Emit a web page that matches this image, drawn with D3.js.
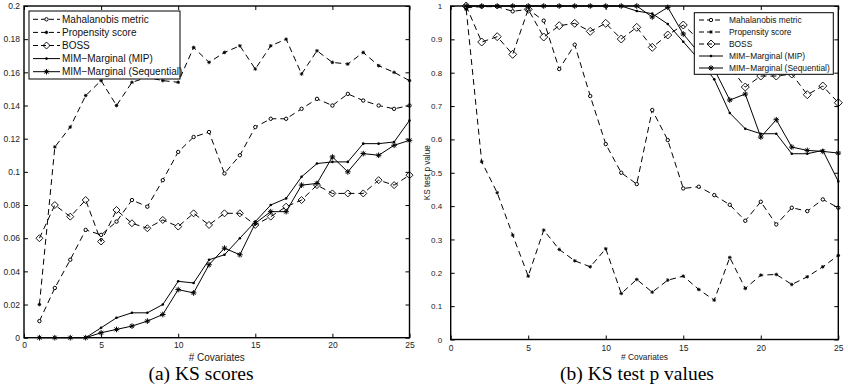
<!DOCTYPE html>
<html><head><meta charset="utf-8">
<script src="https://cdn.jsdelivr.net/npm/d3@7"></script>
<style>html,body{margin:0;padding:0;background:#fff}svg{display:block}</style>
</head><body><svg id="c" width="848" height="392"></svg>
<script>
// ---------- data ----------
const covariates = [1,2,3,4,5,6,7,8,9,10,11,12,13,14,15,16,17,18,19,20,21,22,23,24,25];
const xTicks = [0,5,10,15,20,25];
const ksTicks = [0,0.02,0.04,0.06,0.08,0.1,0.12,0.14,0.16,0.18,0.2];
const pTicks = [0,0.1,0.2,0.3,0.4,0.5,0.6,0.7,0.8,0.9,1];
const seriesNames = ["Mahalanobis metric","Propensity score","BOSS","MIM\u2212Marginal (MIP)","MIM\u2212Marginal (Sequential)"];

// (a) KS scores
const ksMahalanobis = [0.010,0.030,0.047,0.065,0.062,0.070,0.083,0.079,0.095,0.112,0.121,0.124,0.099,0.110,0.127,0.132,0.132,0.138,0.144,0.140,0.147,0.143,0.140,0.138,0.140];
const ksPropensity  = [0.020,0.115,0.127,0.146,0.155,0.140,0.154,0.157,0.155,0.154,0.175,0.166,0.172,0.176,0.162,0.176,0.180,0.159,0.173,0.166,0.165,0.172,0.164,0.160,0.155];
const ksBoss        = [0.060,0.080,0.073,0.083,0.058,0.077,0.069,0.066,0.071,0.067,0.075,0.068,0.075,0.075,0.068,0.073,0.079,0.083,0.092,0.087,0.087,0.087,0.095,0.092,0.098];
const ksMip         = [0,0,0,0,0.006,0.012,0.015,0.015,0.020,0.034,0.033,0.047,0.050,0.060,0.070,0.080,0.084,0.097,0.105,0.106,0.106,0.117,0.117,0.118,0.131];
const ksSequential  = [0,0,0,0,0.003,0.005,0.007,0.010,0.014,0.029,0.027,0.044,0.054,0.050,0.069,0.076,0.076,0.092,0.093,0.109,0.100,0.111,0.110,0.116,0.119];

// (b) KS test p values
const pMahalanobis = [0.995,0.998,0.998,0.984,0.990,0.956,0.811,0.884,0.730,0.586,0.500,0.466,0.688,0.598,0.453,0.458,0.433,0.404,0.356,0.413,0.345,0.395,0.385,0.420,0.395];
const pPropensity  = [0.990,0.533,0.440,0.313,0.190,0.328,0.270,0.236,0.218,0.272,0.138,0.180,0.142,0.178,0.190,0.150,0.118,0.246,0.153,0.193,0.195,0.165,0.188,0.218,0.252];
const pBoss        = [1.000,0.892,0.908,0.855,0.990,0.907,0.941,0.948,0.924,0.948,0.901,0.936,0.876,0.913,0.943,0.900,0.860,0.818,0.757,0.790,0.790,0.796,0.734,0.760,0.710];
const pMip         = [1,1,1,1,1,1,1,1,1,1,1,0.985,0.977,0.946,0.893,0.840,0.780,0.679,0.632,0.617,0.617,0.557,0.557,0.567,0.474];
const pSequential  = [1,1,1,1,1,1,1,1,1,1,1,1,0.967,0.996,0.916,0.860,0.810,0.718,0.736,0.607,0.659,0.577,0.567,0.564,0.559];

const captions = ["(a) KS scores","(b) KS test p values"];
const xLabel = "# Covariates";
const yLabelRight = "KS test p value";

// ---------- styles ----------
const seriesStyle = [
  {dash:"6,4", marker:"circle"},
  {dash:"6,4", marker:"smallstar"},
  {dash:"6,4", marker:"diamond"},
  {dash:null,  marker:"dot"},
  {dash:null,  marker:"star"}
];

const panels = [
  {values:[ksMahalanobis,ksPropensity,ksBoss,ksMip,ksSequential], yTicks:ksTicks, yMax:0.2,
   left:24, right:409.5, top:6, bottom:337.7, yFont:8.5, yPad:4, xFont:8.5, xPad:4.5,
   xLabelFont:10, xLabelY:357, diamond:3.5, caption:captions[0], captionX:201,
   legend:{x:29,y:11,w:151,h:68,l0:33,l1:60,tx:62,r0:19.3,step:13.1,font:10}},
  {values:[pMahalanobis,pPropensity,pBoss,pMip,pSequential], yTicks:pTicks, yMax:1,
   left:450.7, right:838.3, top:6, bottom:339.5, yFont:8, yPad:8.5, xFont:8.5, xPad:5,
   xLabelFont:8.4, xLabelY:357, diamond:4, caption:captions[1], captionX:637, yLabel:yLabelRight,
   legend:{x:694.3,y:12.7,w:139,h:61.6,l0:699,l1:723,tx:729,r0:20,step:12,font:8.4}}
];

const svg = d3.select("#c");
const FONT = "'Liberation Sans', Arial, Helvetica, sans-serif";

function drawMarker(g, type, x, y, dsz){
  if(type==="circle"){
    g.append("circle").attr("cx",x).attr("cy",y).attr("r",1.7).attr("fill","#fff").attr("stroke","#000").attr("stroke-width",1);
  } else if(type==="dot"){
    g.append("circle").attr("cx",x).attr("cy",y).attr("r",1.3).attr("fill","#000");
  } else if(type==="diamond"){
    const r=dsz;
    g.append("path").attr("d",`M${x},${y-r}L${x+r},${y}L${x},${y+r}L${x-r},${y}Z`).attr("fill","none").attr("stroke","#000").attr("stroke-width",0.9);
  } else {
    const r = type==="star"?2.8:1.8, k=r*0.7;
    g.append("path").attr("d",`M${x-r},${y}H${x+r}M${x},${y-r}V${y+r}M${x-k},${y-k}L${x+k},${y+k}M${x-k},${y+k}L${x+k},${y-k}`)
      .attr("stroke","#000").attr("stroke-width",type==="star"?1:0.9).attr("fill","none");
  }
}

panels.forEach(p=>{
  const x = d3.scaleLinear().domain([0,25]).range([p.left,p.right]);
  const y = d3.scaleLinear().domain([0,p.yMax]).range([p.bottom,p.top]);
  const g = svg.append("g");

  // series
  p.values.forEach((vals,i)=>{
    const st = seriesStyle[i];
    const line = d3.line().x((d,j)=>x(covariates[j])).y(d=>y(d));
    g.append("path").datum(vals).attr("d",line).attr("fill","none").attr("stroke","#000")
      .attr("stroke-width",1).attr("stroke-dasharray",st.dash);
    const mg = g.append("g");
    vals.forEach((v,j)=>drawMarker(mg, st.marker, x(covariates[j]), y(v), p.diamond));
  });

  // axes (inward ticks)
  const ax = g.append("g").attr("font-family",FONT);
  const bottom = ax.append("g").attr("transform",`translate(0,${p.bottom})`)
    .call(d3.axisBottom(x).tickValues(xTicks).tickSizeInner(-4).tickSizeOuter(0).tickPadding(p.xPad).tickFormat(d=>d));
  bottom.selectAll("text").attr("font-size",p.xFont).attr("fill","#222");
  ax.append("g").attr("transform",`translate(0,${p.top})`)
    .call(d3.axisTop(x).tickValues(xTicks).tickSizeInner(-4).tickSizeOuter(0).tickFormat(""));
  const left = ax.append("g").attr("transform",`translate(${p.left},0)`)
    .call(d3.axisLeft(y).tickValues(p.yTicks).tickSizeInner(-4).tickSizeOuter(0).tickPadding(p.yPad).tickFormat(d=>String(+d.toFixed(2))));
  left.selectAll("text").attr("font-size",p.yFont).attr("fill","#222");
  ax.append("g").attr("transform",`translate(${p.right},0)`)
    .call(d3.axisRight(y).tickValues(p.yTicks).tickSizeInner(-4).tickSizeOuter(0).tickFormat(""));
  ax.selectAll(".domain").remove();
  ax.selectAll(".tick line").attr("stroke","#000");

  // frame
  g.append("rect").attr("x",p.left).attr("y",p.top).attr("width",p.right-p.left).attr("height",p.bottom-p.top)
    .attr("fill","none").attr("stroke","#000").attr("stroke-width",1.4);

  // x label
  g.append("text").attr("x",(p.left+p.right)/2).attr("y",p.xLabelY).attr("text-anchor","middle")
    .attr("dominant-baseline","central").attr("font-family",FONT).attr("font-size",p.xLabelFont).attr("fill","#222").text(xLabel);
  if(p.yLabel){
    g.append("text").attr("transform",`translate(427.5,${(p.top+p.bottom)/2}) rotate(-90)`).attr("text-anchor","middle")
      .attr("dominant-baseline","central").attr("font-family",FONT).attr("font-size",8.2).attr("fill","#222").text(p.yLabel);
  }

  // legend
  const L = p.legend;
  const lg = g.append("g");
  lg.append("rect").attr("x",L.x).attr("y",L.y).attr("width",L.w).attr("height",L.h).attr("fill","#fff").attr("stroke","#000").attr("stroke-width",1);
  seriesNames.forEach((name,i)=>{
    const yy = L.r0 + i*L.step, st = seriesStyle[i];
    lg.append("line").attr("x1",L.l0).attr("x2",L.l1).attr("y1",yy).attr("y2",yy).attr("stroke","#000").attr("stroke-width",1).attr("stroke-dasharray",st.dash?"5,3":null);
    drawMarker(lg, st.marker, (L.l0+L.l1)/2, yy, p.diamond);
    lg.append("text").attr("x",L.tx).attr("y",yy).attr("dominant-baseline","central").attr("font-family",FONT)
      .attr("font-size",L.font).attr("fill","#111").text(name);
  });

  // caption
  svg.append("text").attr("x",p.captionX).attr("y",373).attr("text-anchor","middle").attr("dominant-baseline","central")
    .attr("font-family","'Liberation Serif','Times New Roman',serif").attr("font-size",19.5).attr("fill","#000").text(p.caption);
});
</script></body></html>
